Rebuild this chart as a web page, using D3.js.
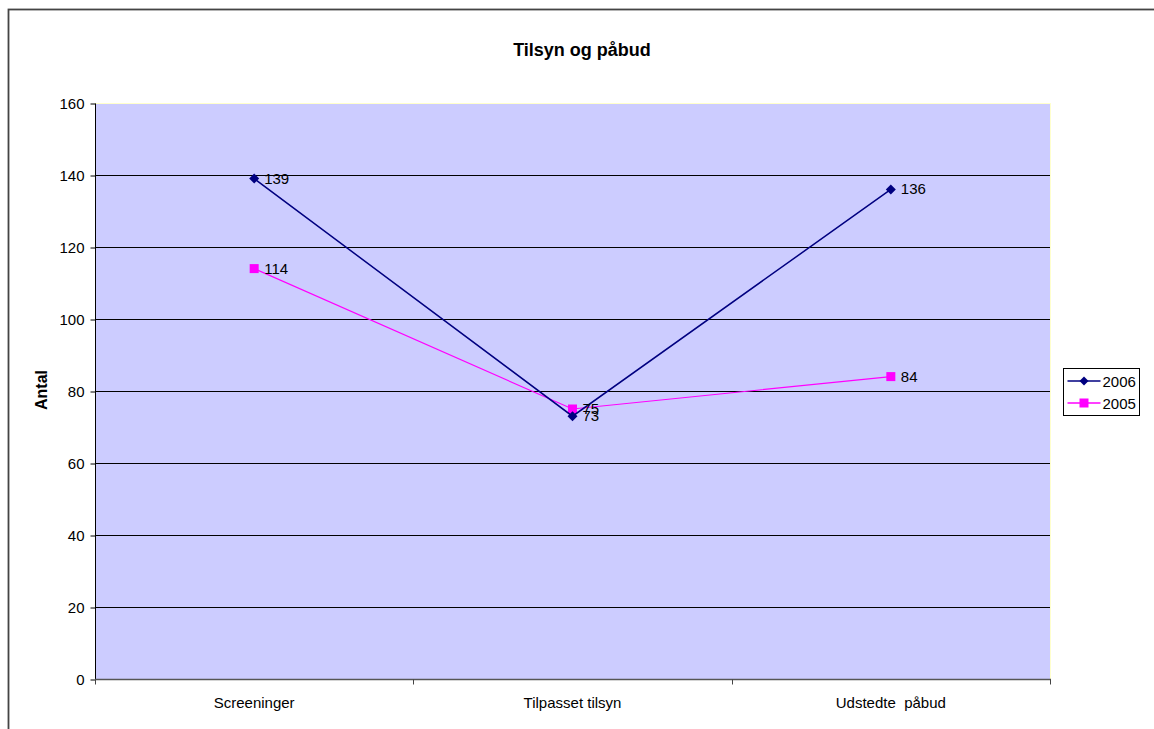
<!DOCTYPE html>
<html>
<head>
<meta charset="utf-8">
<script src="https://cdn.jsdelivr.net/npm/d3@7"></script>
<style>
  html, body { margin: 0; padding: 0; background: #fff; }
  svg { display: block; font-family: "Liberation Sans", Arial, sans-serif; }
</style>
</head>
<body>
<svg id="chart" width="1154" height="729"></svg>
<script>
// Chart data
const categories = ["Screeninger", "Tilpasset tilsyn", "Udstedte  påbud"];
const series2006 = [139, 73, 136];
const series2005 = [114, 75, 84];
const seriesNames = ["2006", "2005"];
const yTicks = [0, 20, 40, 60, 80, 100, 120, 140, 160];

const svg = d3.select("#chart");
const FS = 15;

// Outer chart frame
svg.append("rect")
  .attr("x", 8.5).attr("y", 9.5)
  .attr("width", 1160).attr("height", 740)
  .attr("fill", "#fff").attr("stroke", "#444").attr("stroke-width", 1.8);

const plot = { left: 95, top: 103, right: 1050, bottom: 679 };

const x = d3.scaleBand().domain(categories).range([plot.left, plot.right]).padding(0);
const y = d3.scaleLinear().domain([0, 160]).range([plot.bottom, plot.top]);

// Plot area background
svg.append("rect")
  .attr("x", plot.left).attr("y", plot.top)
  .attr("width", plot.right - plot.left).attr("height", plot.bottom - plot.top)
  .attr("fill", "#CCCCFF");
svg.append("line")
  .attr("x1", plot.right + 0.5).attr("x2", plot.right + 0.5)
  .attr("y1", plot.top).attr("y2", plot.bottom)
  .attr("stroke", "#ffffcc").attr("stroke-width", 1);
svg.append("line")
  .attr("x1", plot.left).attr("x2", plot.right)
  .attr("y1", plot.top + 0.5).attr("y2", plot.top + 0.5)
  .attr("stroke", "#ffffcc").attr("stroke-width", 1);

// Horizontal gridlines
svg.append("g")
  .selectAll("line")
  .data(yTicks.filter(d => d > 0 && d < 160))
  .join("line")
  .attr("x1", plot.left).attr("x2", plot.right)
  .attr("y1", d => Math.round(y(d)) + 0.5).attr("y2", d => Math.round(y(d)) + 0.5)
  .attr("stroke", "#000").attr("stroke-width", 1);

// Y axis
const yAxis = svg.append("g")
  .attr("transform", `translate(${plot.left + 0.5},0.5)`)
  .call(d3.axisLeft(y).tickValues(yTicks).tickSize(5).tickPadding(6));
yAxis.select(".domain").attr("stroke", "#000").attr("d", `M0,${plot.top}V${plot.bottom}`);
yAxis.selectAll(".tick line").attr("stroke", "#000");
yAxis.selectAll(".tick text").attr("font-size", FS).attr("fill", "#000")
  .attr("font-family", "Liberation Sans, Arial, sans-serif");

// X axis with tick marks on category boundaries
const xAxisG = svg.append("g").attr("transform", `translate(0,${plot.bottom + 0.5})`);
xAxisG.append("line")
  .attr("x1", plot.left).attr("x2", plot.right + 1)
  .attr("y1", 0).attr("y2", 0).attr("stroke", "#555").attr("stroke-width", 1.5);
const boundaries = categories.map(c => x(c)).concat([x(categories[categories.length - 1]) + x.bandwidth()]);
xAxisG.selectAll("line.tk").data(boundaries).join("line").attr("class", "tk")
  .attr("x1", d => Math.round(d) + 0.5).attr("x2", d => Math.round(d) + 0.5)
  .attr("y1", 0).attr("y2", 5).attr("stroke", "#444");
xAxisG.selectAll("text").data(categories).join("text")
  .attr("x", d => x(d) + x.bandwidth() / 2)
  .attr("y", 28)
  .attr("text-anchor", "middle")
  .attr("font-size", FS).attr("fill", "#000")
  .style("white-space", "pre")
  .attr("xml:space", "preserve")
  .text(d => d);

// Title
svg.append("text")
  .attr("x", 582).attr("y", 56)
  .attr("text-anchor", "middle")
  .attr("font-size", 18).attr("font-weight", "bold")
  .text("Tilsyn og påbud");

// Y axis title
svg.append("text")
  .attr("transform", "translate(47,390) rotate(-90)")
  .attr("text-anchor", "middle")
  .attr("font-size", 16).attr("font-weight", "bold")
  .text("Antal");

const cx = c => x(c) + x.bandwidth() / 2;
const line = d3.line().x(d => cx(d.c)).y(d => y(d.v));

const s05 = categories.map((c, i) => ({ c, v: series2005[i] }));
const s06 = categories.map((c, i) => ({ c, v: series2006[i] }));

// 2005 series (magenta, squares)
svg.append("path").datum(s05).attr("d", line)
  .attr("fill", "none").attr("stroke", "#FF00FF").attr("stroke-width", 1.2);
svg.append("g").selectAll("rect").data(s05).join("rect")
  .attr("x", d => cx(d.c) - 4.5).attr("y", d => y(d.v) - 4.5)
  .attr("width", 9).attr("height", 9).attr("fill", "#FF00FF");

// 2006 series (navy, diamonds)
svg.append("path").datum(s06).attr("d", line)
  .attr("fill", "none").attr("stroke", "#000080").attr("stroke-width", 1.5);
svg.append("g").selectAll("path.mk").data(s06).join("path").attr("class", "mk")
  .attr("transform", d => `translate(${cx(d.c)},${y(d.v)})`)
  .attr("d", "M0,-5L5,0L0,5L-5,0Z").attr("fill", "#000080");

// Value labels
svg.append("g").selectAll("text").data(s06.concat(s05)).join("text")
  .attr("x", d => cx(d.c) + 10).attr("y", d => y(d.v) + 5)
  .attr("font-size", FS).attr("fill", "#000")
  .text(d => d.v);

// Legend
const lg = svg.append("g").attr("transform", "translate(1063.5,368.5)");
lg.append("rect").attr("width", 76).attr("height", 47)
  .attr("fill", "#fff").attr("stroke", "#000").attr("stroke-width", 1);
const legendItems = [
  { name: seriesNames[0], color: "#000080", shape: "diamond" },
  { name: seriesNames[1], color: "#FF00FF", shape: "square" }
];
legendItems.forEach((it, i) => {
  const yy = 12.5 + i * 22;
  lg.append("line").attr("x1", 4).attr("x2", 37).attr("y1", yy).attr("y2", yy)
    .attr("stroke", it.color).attr("stroke-width", 1.5);
  if (it.shape === "diamond") {
    lg.append("path").attr("transform", `translate(20.5,${yy})`)
      .attr("d", "M0,-4.5L4.5,0L0,4.5L-4.5,0Z").attr("fill", it.color);
  } else {
    lg.append("rect").attr("x", 16).attr("y", yy - 4.5).attr("width", 9).attr("height", 9)
      .attr("fill", it.color);
  }
  lg.append("text").attr("x", 39).attr("y", yy + 5.5)
    .attr("font-size", FS).text(it.name);
});
</script>
</body>
</html>
